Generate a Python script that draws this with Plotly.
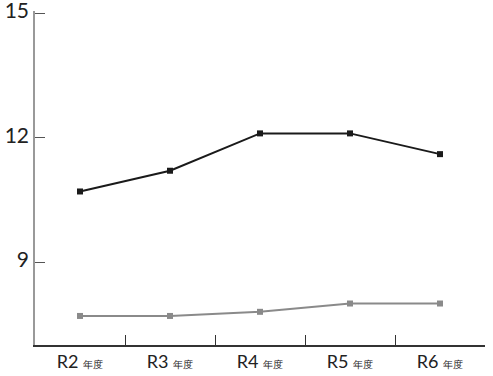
import plotly.graph_objects as go

categories = ["R2", "R3", "R4", "R5", "R6"]
tick_labels = ["R2 <span style='font-size:10px'>年度</span>",
               "R3 <span style='font-size:10px'>年度</span>",
               "R4 <span style='font-size:10px'>年度</span>",
               "R5 <span style='font-size:10px'>年度</span>",
               "R6 <span style='font-size:10px'>年度</span>"]
series_black = [10.7, 11.2, 12.1, 12.1, 11.6]
series_gray = [7.7, 7.7, 7.8, 8.0, 8.0]
y_ticks = [9, 12, 15]

fig = go.Figure()
fig.add_trace(go.Scatter(x=categories, y=series_gray, mode="lines+markers",
                         line=dict(color="#8a8a8a", width=2),
                         marker=dict(symbol="square", size=6, color="#8a8a8a")))
fig.add_trace(go.Scatter(x=categories, y=series_black, mode="lines+markers",
                         line=dict(color="#1a1a1a", width=2),
                         marker=dict(symbol="square", size=6, color="#1a1a1a")))

fig.update_layout(
    width=493, height=376,
    margin=dict(l=35, r=8, t=11, b=31),
    paper_bgcolor="white", plot_bgcolor="white",
    showlegend=False,
    font=dict(family="Lato, Open Sans, sans-serif", color="#222"),
)
fig.update_xaxes(
    type="category", range=[-0.5, 4.5], automargin=False,
    tickmode="array", tickvals=categories, ticktext=tick_labels,
    tickson="boundaries", ticks="inside", ticklen=10, tickcolor="#333", tickwidth=1,
    showline=True, linecolor="#333", linewidth=1.5, showgrid=False,
    tickfont=dict(size=18, color="#222"), zeroline=False,
    ticklabeloverflow="allow",
)
fig.update_yaxes(
    range=[7, 15.05], tickmode="array", tickvals=y_ticks, ticktext=[str(v) for v in y_ticks],
    automargin=False, ticklabeloverflow="allow", ticklabelshift=-2,
    ticks="inside", ticklen=10, tickcolor="#555", tickwidth=1,
    showline=True, linecolor="#999", linewidth=1.5, showgrid=False, zeroline=False,
    tickfont=dict(size=21, color="#222"),
)
fig.write_html("out.html", config={"displayModeBar": False},
               post_script="document.body.style.margin='0';")
